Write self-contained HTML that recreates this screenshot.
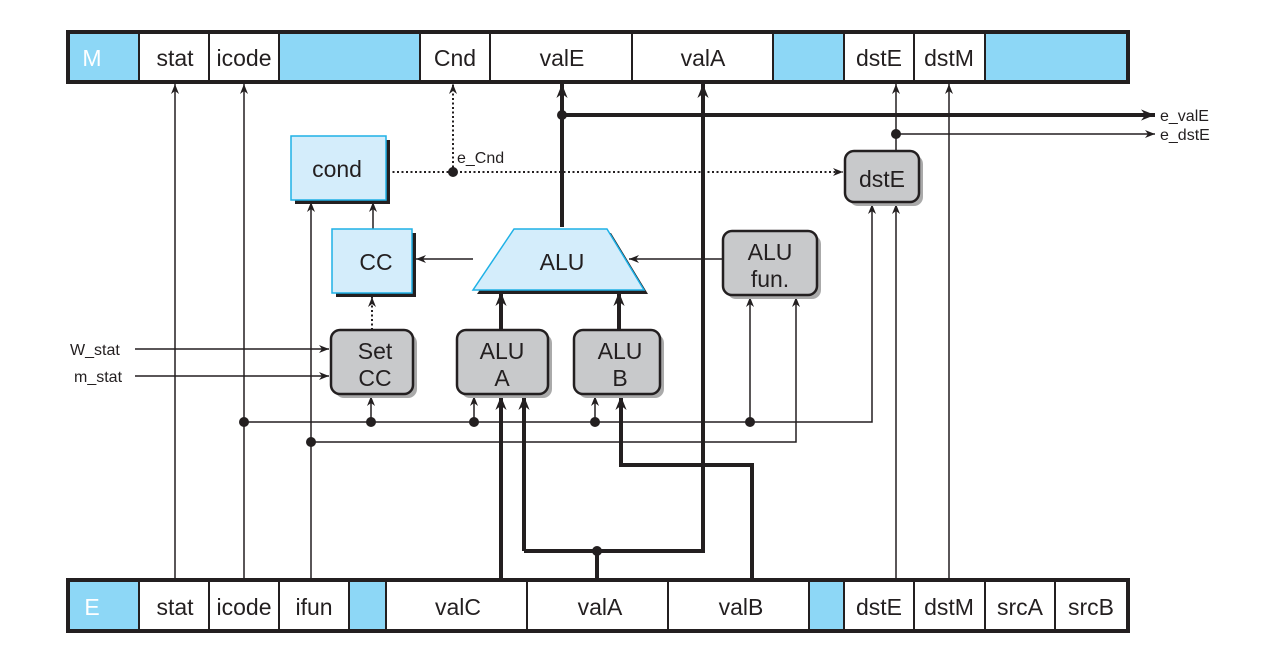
<!DOCTYPE html>
<html><head><meta charset="utf-8"><style>
html,body{margin:0;padding:0;background:#fff;}
svg{display:block;}
text{font-family:"Liberation Sans",sans-serif;fill:#231f20;}
</style></head><body>
<svg width="1263" height="654" viewBox="0 0 1263 654" xmlns="http://www.w3.org/2000/svg">
<defs>
<marker id="a" viewBox="0 0 10 10" refX="10" refY="5" markerWidth="10" markerHeight="10" markerUnits="userSpaceOnUse" orient="auto"><path d="M0,1 L10,5 L0,9 L3,5 Z" fill="#231f20"/></marker>
<marker id="ab" viewBox="0 0 10 10" refX="10" refY="5" markerWidth="14" markerHeight="14" markerUnits="userSpaceOnUse" orient="auto"><path d="M0,1 L10,5 L0,9 L3,5 Z" fill="#231f20"/></marker>
</defs>

<g stroke="#231f20" stroke-width="2">
<rect x="69" y="33" width="70" height="48" fill="#8dd7f6"/>
<rect x="139" y="33" width="70" height="48" fill="#fff"/>
<rect x="209" y="33" width="70" height="48" fill="#fff"/>
<rect x="279" y="33" width="141" height="48" fill="#8dd7f6"/>
<rect x="420" y="33" width="70" height="48" fill="#fff"/>
<rect x="490" y="33" width="142" height="48" fill="#fff"/>
<rect x="632" y="33" width="141" height="48" fill="#fff"/>
<rect x="773" y="33" width="71" height="48" fill="#8dd7f6"/>
<rect x="844" y="33" width="70" height="48" fill="#fff"/>
<rect x="914" y="33" width="71" height="48" fill="#fff"/>
<rect x="985" y="33" width="142" height="48" fill="#8dd7f6"/>
</g>
<rect x="68" y="32" width="1060" height="50" fill="none" stroke="#231f20" stroke-width="4"/>
<g font-size="23" text-anchor="middle">
<text x="92" y="66" style="fill:#fff">M</text>
<text x="175" y="66">stat</text><text x="244" y="66">icode</text>
<text x="455" y="66">Cnd</text><text x="562" y="66">valE</text><text x="703" y="66">valA</text>
<text x="879" y="66">dstE</text><text x="949" y="66">dstM</text>
</g>

<g stroke="#231f20" stroke-width="2">
<rect x="69" y="581" width="70" height="49" fill="#8dd7f6"/>
<rect x="139" y="581" width="70" height="49" fill="#fff"/>
<rect x="209" y="581" width="70" height="49" fill="#fff"/>
<rect x="279" y="581" width="70" height="49" fill="#fff"/>
<rect x="349" y="581" width="37" height="49" fill="#8dd7f6"/>
<rect x="386" y="581" width="141" height="49" fill="#fff"/>
<rect x="527" y="581" width="141" height="49" fill="#fff"/>
<rect x="668" y="581" width="141" height="49" fill="#fff"/>
<rect x="809" y="581" width="35" height="49" fill="#8dd7f6"/>
<rect x="844" y="581" width="70" height="49" fill="#fff"/>
<rect x="914" y="581" width="71" height="49" fill="#fff"/>
<rect x="985" y="581" width="70" height="49" fill="#fff"/>
<rect x="1055" y="581" width="72" height="49" fill="#fff"/>
</g>
<rect x="68" y="580" width="1060" height="51" fill="none" stroke="#231f20" stroke-width="4"/>
<g font-size="23" text-anchor="middle">
<text x="92" y="615" style="fill:#fff">E</text>
<text x="175" y="615">stat</text><text x="244" y="615">icode</text><text x="314" y="615">ifun</text>
<text x="458" y="615">valC</text><text x="600" y="615">valA</text><text x="741" y="615">valB</text>
<text x="879" y="615">dstE</text><text x="949" y="615">dstM</text><text x="1020" y="615">srcA</text><text x="1091" y="615">srcB</text>
</g>

<g stroke="#231f20" stroke-width="1.5" fill="none">
<line x1="175" y1="579" x2="175" y2="84" marker-end="url(#a)"/>
<line x1="244" y1="579" x2="244" y2="84" marker-end="url(#a)"/>
<line x1="311" y1="579" x2="311" y2="202" marker-end="url(#a)"/>
<line x1="949" y1="579" x2="949" y2="84" marker-end="url(#a)"/>
<line x1="896" y1="579" x2="896" y2="204" marker-end="url(#a)"/>
<line x1="896" y1="151" x2="896" y2="84" marker-end="url(#a)"/>
<line x1="896" y1="134" x2="1155" y2="134" marker-end="url(#a)"/>
<line x1="373" y1="229" x2="373" y2="202" marker-end="url(#a)"/>
<line x1="473" y1="259" x2="416" y2="259" marker-end="url(#a)"/>
<line x1="723" y1="259" x2="629" y2="259" marker-end="url(#a)"/>
<line x1="135" y1="349" x2="329" y2="349" marker-end="url(#a)"/>
<line x1="135" y1="376" x2="329" y2="376" marker-end="url(#a)"/>
<polyline points="244,422 872,422 872,204" marker-end="url(#a)"/>
<line x1="371" y1="422" x2="371" y2="396" marker-end="url(#a)"/>
<line x1="474" y1="422" x2="474" y2="396" marker-end="url(#a)"/>
<line x1="595" y1="422" x2="595" y2="396" marker-end="url(#a)"/>
<line x1="750" y1="422" x2="750" y2="297" marker-end="url(#a)"/>
<polyline points="311,442 796,442 796,297" marker-end="url(#a)"/>
</g>
<g stroke="#231f20" stroke-width="2" fill="none" stroke-dasharray="2,2.5">
<line x1="388" y1="172" x2="843" y2="172" marker-end="url(#a)"/>
<line x1="453" y1="172" x2="453" y2="84" marker-end="url(#a)"/>
<line x1="372" y1="330" x2="372" y2="297" marker-end="url(#a)"/>
</g>
<g stroke="#231f20" stroke-width="4" fill="none">
<line x1="562" y1="227" x2="562" y2="84" marker-end="url(#ab)"/>
<line x1="562" y1="115" x2="1155" y2="115" marker-end="url(#ab)"/>
<polyline points="597,581 597,551"/>
<polyline points="524,551 703,551 703,84" marker-end="url(#ab)"/>
<line x1="524" y1="551" x2="524" y2="396" marker-end="url(#ab)"/>
<line x1="501" y1="581" x2="501" y2="396" marker-end="url(#ab)"/>
<polyline points="752,581 752,465 621,465 621,396" marker-end="url(#ab)"/>
<line x1="501" y1="330" x2="501" y2="292" marker-end="url(#ab)"/>
<line x1="619" y1="330" x2="619" y2="292" marker-end="url(#ab)"/>
</g>
<g fill="#231f20">
<circle cx="562" cy="115" r="5"/><circle cx="896" cy="134" r="5"/><circle cx="453" cy="172" r="5"/>
<circle cx="244" cy="422" r="5"/><circle cx="371" cy="422" r="5"/><circle cx="474" cy="422" r="5"/>
<circle cx="595" cy="422" r="5"/><circle cx="750" cy="422" r="5"/><circle cx="311" cy="442" r="5"/>
<circle cx="597" cy="551" r="5"/>
</g>

<rect x="295" y="140" width="95" height="64" fill="#231f20"/>
<rect x="291" y="136" width="95" height="64" fill="#d4edfb" stroke="#1fb1e6" stroke-width="1.5"/>
<text x="337" y="177" font-size="23" text-anchor="middle">cond</text>
<rect x="336" y="233" width="80" height="64" fill="#231f20"/>
<rect x="332" y="229" width="80" height="64" fill="#d4edfb" stroke="#1fb1e6" stroke-width="1.5"/>
<text x="376" y="270" font-size="23" text-anchor="middle">CC</text>
<polygon points="518,233 611,233 648,294 477,294" fill="#231f20"/>
<polygon points="514,229 607,229 644,290 473,290" fill="#d4edfb" stroke="#1fb1e6" stroke-width="1.5"/>
<text x="562" y="270" font-size="23" text-anchor="middle">ALU</text>

<g stroke="#231f20" stroke-width="2.5">
<rect x="335" y="334" width="82" height="64" rx="9" fill="#aaa" stroke="none"/>
<rect x="331" y="330" width="82" height="64" rx="9" fill="#c8c9cb"/>
<rect x="461" y="334" width="91" height="64" rx="9" fill="#aaa" stroke="none"/>
<rect x="457" y="330" width="91" height="64" rx="9" fill="#c8c9cb"/>
<rect x="578" y="334" width="86" height="64" rx="9" fill="#aaa" stroke="none"/>
<rect x="574" y="330" width="86" height="64" rx="9" fill="#c8c9cb"/>
<rect x="727" y="235" width="94" height="64" rx="9" fill="#aaa" stroke="none"/>
<rect x="723" y="231" width="94" height="64" rx="9" fill="#c8c9cb"/>
<rect x="849" y="155" width="74" height="51" rx="9" fill="#aaa" stroke="none"/>
<rect x="845" y="151" width="74" height="51" rx="9" fill="#c8c9cb"/>
</g>
<g font-size="23" text-anchor="middle">
<text x="375" y="359">Set</text><text x="375" y="386">CC</text>
<text x="502" y="359">ALU</text><text x="502" y="386">A</text>
<text x="620" y="359">ALU</text><text x="620" y="386">B</text>
<text x="770" y="260">ALU</text><text x="770" y="287">fun.</text>
<text x="882" y="187">dstE</text>
</g>
<g font-size="16">
<text x="457" y="163">e_Cnd</text>
<text x="1160" y="121">e_valE</text>
<text x="1160" y="140">e_dstE</text>
<text x="70" y="355">W_stat</text>
<text x="74" y="382">m_stat</text>
</g>
</svg>
</body></html>
